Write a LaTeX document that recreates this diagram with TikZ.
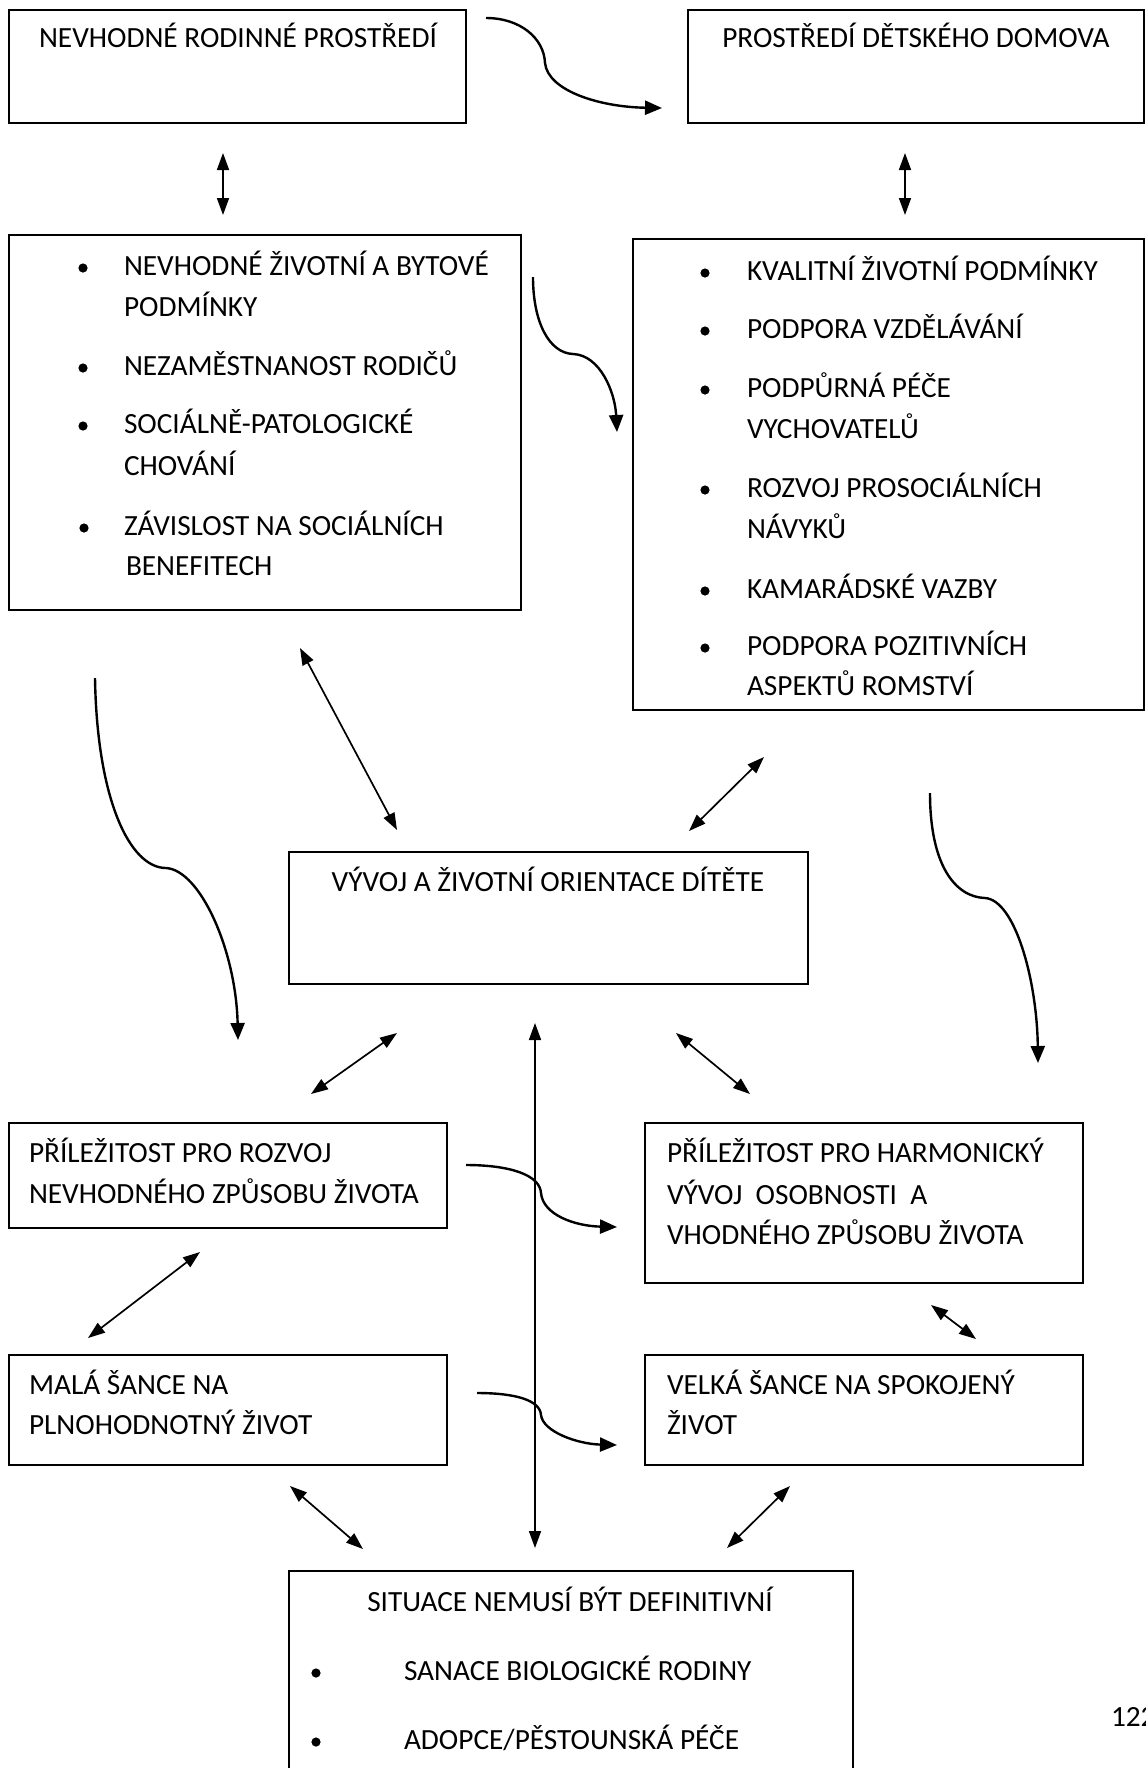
\documentclass[tikz,border=0pt]{standalone}
\usepackage{fontspec}
\setmainfont{Carlito}
\usetikzlibrary{arrows.meta,fit,calc}
\tikzset{
 box/.style={draw, line width=1.2pt, inner sep=0pt, outer sep=0pt},
 txt/.style={inner sep=0pt, outer sep=0pt, anchor=base west, font=\fontsize{14.65}{17.6}\selectfont},
 ctxt/.style={txt, anchor=base},
 bul/.style={circle, fill, draw=none, inner sep=0pt, minimum size=4.6pt},
 dbl/.style={{Triangle[length=8.5pt,width=6pt]}-{Triangle[length=8.5pt,width=6pt]}, line width=0.85pt},
 crv/.style={-{Triangle[length=8.5pt,width=7pt]}, line width=1.2pt},
}
\begin{document}
\begin{tikzpicture}[x=0.5pt,y=-0.5pt]
\path[use as bounding box] (0,0) rectangle (1146,1768);
\clip (0,0) rectangle (1146,1768);

% ---------- boxes ----------
\node[box, fit={(9,10) (466,123)}] (A) {};
\node[box, fit={(688,10) (1144,123)}] (B) {};
\node[box, fit={(9,235) (521,610)}] (C) {};
\node[box, fit={(633,239) (1144,710)}] (D) {};
\node[box, fit={(289,852) (808,984)}] (E) {};
\node[box, fit={(9,1123) (447,1228)}] (F) {};
\node[box, fit={(645,1123) (1083,1283)}] (G) {};
\node[box, fit={(9,1355) (447,1465)}] (H) {};
\node[box, fit={(645,1355) (1083,1465)}] (I) {};
\node[box, fit={(289,1571) (853,1800)}] (J) {};

% ---------- texts ----------
\node[ctxt] (tA) at (238,47) {NEVHODNÉ RODINNÉ PROSTŘEDÍ};
\node[ctxt] (tB) at (916,47) {PROSTŘEDÍ DĚTSKÉHO DOMOVA};

\node[txt] (c1) at (124,275) {NEVHODNÉ ŽIVOTNÍ A BYTOVÉ};
\node[txt] (c2) at (124,316) {PODMÍNKY};
\node[txt] (c3) at (124,375) {NEZAMĚSTNANOST RODIČŮ};
\node[txt] (c4) at (124,433) {SOCIÁLNĚ-PATOLOGICKÉ};
\node[txt] (c5) at (124,475) {CHOVÁNÍ};
\node[txt] (c6) at (124,535) {ZÁVISLOST NA SOCIÁLNÍCH};
\node[txt] (c7) at (126,575) {BENEFITECH};
\node[bul] (bc1) at (83,268) {};
\node[bul] (bc3) at (83,368) {};
\node[bul] (bc4) at (83,426) {};
\node[bul] (bc6) at (84,528) {};

\node[txt] (d1) at (747,280) {KVALITNÍ ŽIVOTNÍ PODMÍNKY};
\node[txt] (d2) at (747,338) {PODPORA VZDĚLÁVÁNÍ};
\node[txt] (d3) at (747,397) {PODPŮRNÁ PÉČE};
\node[txt] (d4) at (747,438) {VYCHOVATELŮ};
\node[txt] (d5) at (747,497) {ROZVOJ PROSOCIÁLNÍCH};
\node[txt] (d6) at (747,538) {NÁVYKŮ};
\node[txt] (d7) at (747,598) {KAMARÁDSKÉ VAZBY};
\node[txt] (d8) at (747,655) {PODPORA POZITIVNÍCH};
\node[txt] (d9) at (747,695) {ASPEKTŮ ROMSTVÍ};
\node[bul] (bd1) at (705,273) {};
\node[bul] (bd2) at (705,331) {};
\node[bul] (bd3) at (705,390) {};
\node[bul] (bd5) at (705,490) {};
\node[bul] (bd7) at (705,591) {};
\node[bul] (bd8) at (705,648) {};

\node[ctxt] (tE) at (548,891) {VÝVOJ A ŽIVOTNÍ ORIENTACE DÍTĚTE};

\node[txt] (f1) at (29,1162) {PŘÍLEŽITOST PRO ROZVOJ};
\node[txt] (f2) at (29,1203) {NEVHODNÉHO ZPŮSOBU ŽIVOTA};

\node[txt] (g1) at (667,1162) {PŘÍLEŽITOST PRO HARMONICKÝ};
\node[txt] (g2) at (667,1204) {VÝVOJ\ \ OSOBNOSTI\ \ A};
\node[txt] (g3) at (667,1244) {VHODNÉHO ZPŮSOBU ŽIVOTA};

\node[txt] (h1) at (29,1394) {MALÁ ŠANCE NA};
\node[txt] (h2) at (29,1434) {PLNOHODNOTNÝ ŽIVOT};

\node[txt] (i1) at (667,1394) {VELKÁ ŠANCE NA SPOKOJENÝ};
\node[txt] (i2) at (667,1434) {ŽIVOT};

\node[ctxt] (j0) at (570,1611) {SITUACE NEMUSÍ BÝT DEFINITIVNÍ};
\node[txt] (j1) at (404,1680) {SANACE BIOLOGICKÉ RODINY};
\node[txt] (j2) at (404,1749) {ADOPCE/PĚSTOUNSKÁ PÉČE};
\node[bul] (bj1) at (316,1673) {};
\node[bul] (bj2) at (316,1742) {};

\node[txt] (pg) at (1111,1726) {122};

% ---------- connector end points ----------
\coordinate (ac1) at (223,153);  \coordinate (ac2) at (223,215);
\coordinate (bd1c) at (905,153); \coordinate (bd2c) at (905,215);
\coordinate (ce1) at (300,648);  \coordinate (ce2) at (397,830);
\coordinate (de1) at (764,757);  \coordinate (de2) at (689,831);
\coordinate (ef1) at (397,1033); \coordinate (ef2) at (311,1094);
\coordinate (ej1) at (535,1023); \coordinate (ej2) at (535,1548);
\coordinate (eg1) at (676,1033); \coordinate (eg2) at (750,1094);
\coordinate (fh1) at (200,1252); \coordinate (fh2) at (88,1338);
\coordinate (gi1) at (931,1305); \coordinate (gi2) at (976,1339);
\coordinate (hj1) at (290,1486); \coordinate (hj2) at (363,1549);
\coordinate (ij1) at (790,1486); \coordinate (ij2) at (727,1548);

\coordinate (k1s) at (486,18);   \coordinate (k1m) at (545,63);   \coordinate (k1e) at (662,108);
\coordinate (k2s) at (533,277);  \coordinate (k2m) at (573,354);  \coordinate (k2e) at (617,432);
\coordinate (k3s) at (95,678);   \coordinate (k3m) at (166,868);  \coordinate (k3e) at (238,1040);
\coordinate (k4s) at (930,793);  \coordinate (k4m) at (985,898);  \coordinate (k4e) at (1038,1063);
\coordinate (k5s) at (466,1165); \coordinate (k5m) at (541,1193); \coordinate (k5e) at (617,1227);
\coordinate (k6s) at (477,1393); \coordinate (k6m) at (541,1415); \coordinate (k6e) at (617,1445);

% ---------- straight double arrows ----------
\draw[dbl] (ac1) -- (ac2);
\draw[dbl] (bd1c) -- (bd2c);
\draw[dbl] (ce1) -- (ce2);
\draw[dbl] (de1) -- (de2);
\draw[dbl] (ef1) -- (ef2);
\draw[dbl] (ej1) -- (ej2);
\draw[dbl] (eg1) -- (eg2);
\draw[dbl] (fh1) -- (fh2);
\draw[dbl] (gi1) -- (gi2);
\draw[dbl] (hj1) -- (hj2);
\draw[dbl] (ij1) -- (ij2);

% ---------- curved arrows ----------
\draw[crv] (k1s) .. controls ($(k1s)+(34,0)$) and ($(k1m)+(-1,-25)$) .. (k1m)
  .. controls ($(k1m)+(3,28)$) and ($(k1e)+(-62,-1)$) .. (k1e);
\draw[crv] (k2s) .. controls ($(k2s)+(0,45)$) and ($(k2m)+(-24,-1)$) .. (k2m)
  .. controls ($(k2m)+(27,1)$) and ($(k2e)+(-2,-40)$) .. (k2e);
\draw[crv] (k3s) .. controls ($(k3s)+(2,122)$) and ($(k3m)+(-36,0)$) .. (k3m)
  .. controls ($(k3m)+(34,2)$) and ($(k3e)+(-2,-90)$) .. (k3e);
\draw[crv] (k4s) .. controls ($(k4s)+(0,72)$) and ($(k4m)+(-30,-1)$) .. (k4m)
  .. controls ($(k4m)+(30,2)$) and ($(k4e)+(-1,-83)$) .. (k4e);
\draw[crv] (k5s) .. controls ($(k5s)+(44,0)$) and ($(k5m)+(-1,-18)$) .. (k5m)
  .. controls ($(k5m)+(2,22)$) and ($(k5e)+(-42,-1)$) .. (k5e);
\draw[crv] (k6s) .. controls ($(k6s)+(38,0)$) and ($(k6m)+(-1,-15)$) .. (k6m)
  .. controls ($(k6m)+(2,17)$) and ($(k6e)+(-39,-1)$) .. (k6e);
\end{tikzpicture}
\end{document}
